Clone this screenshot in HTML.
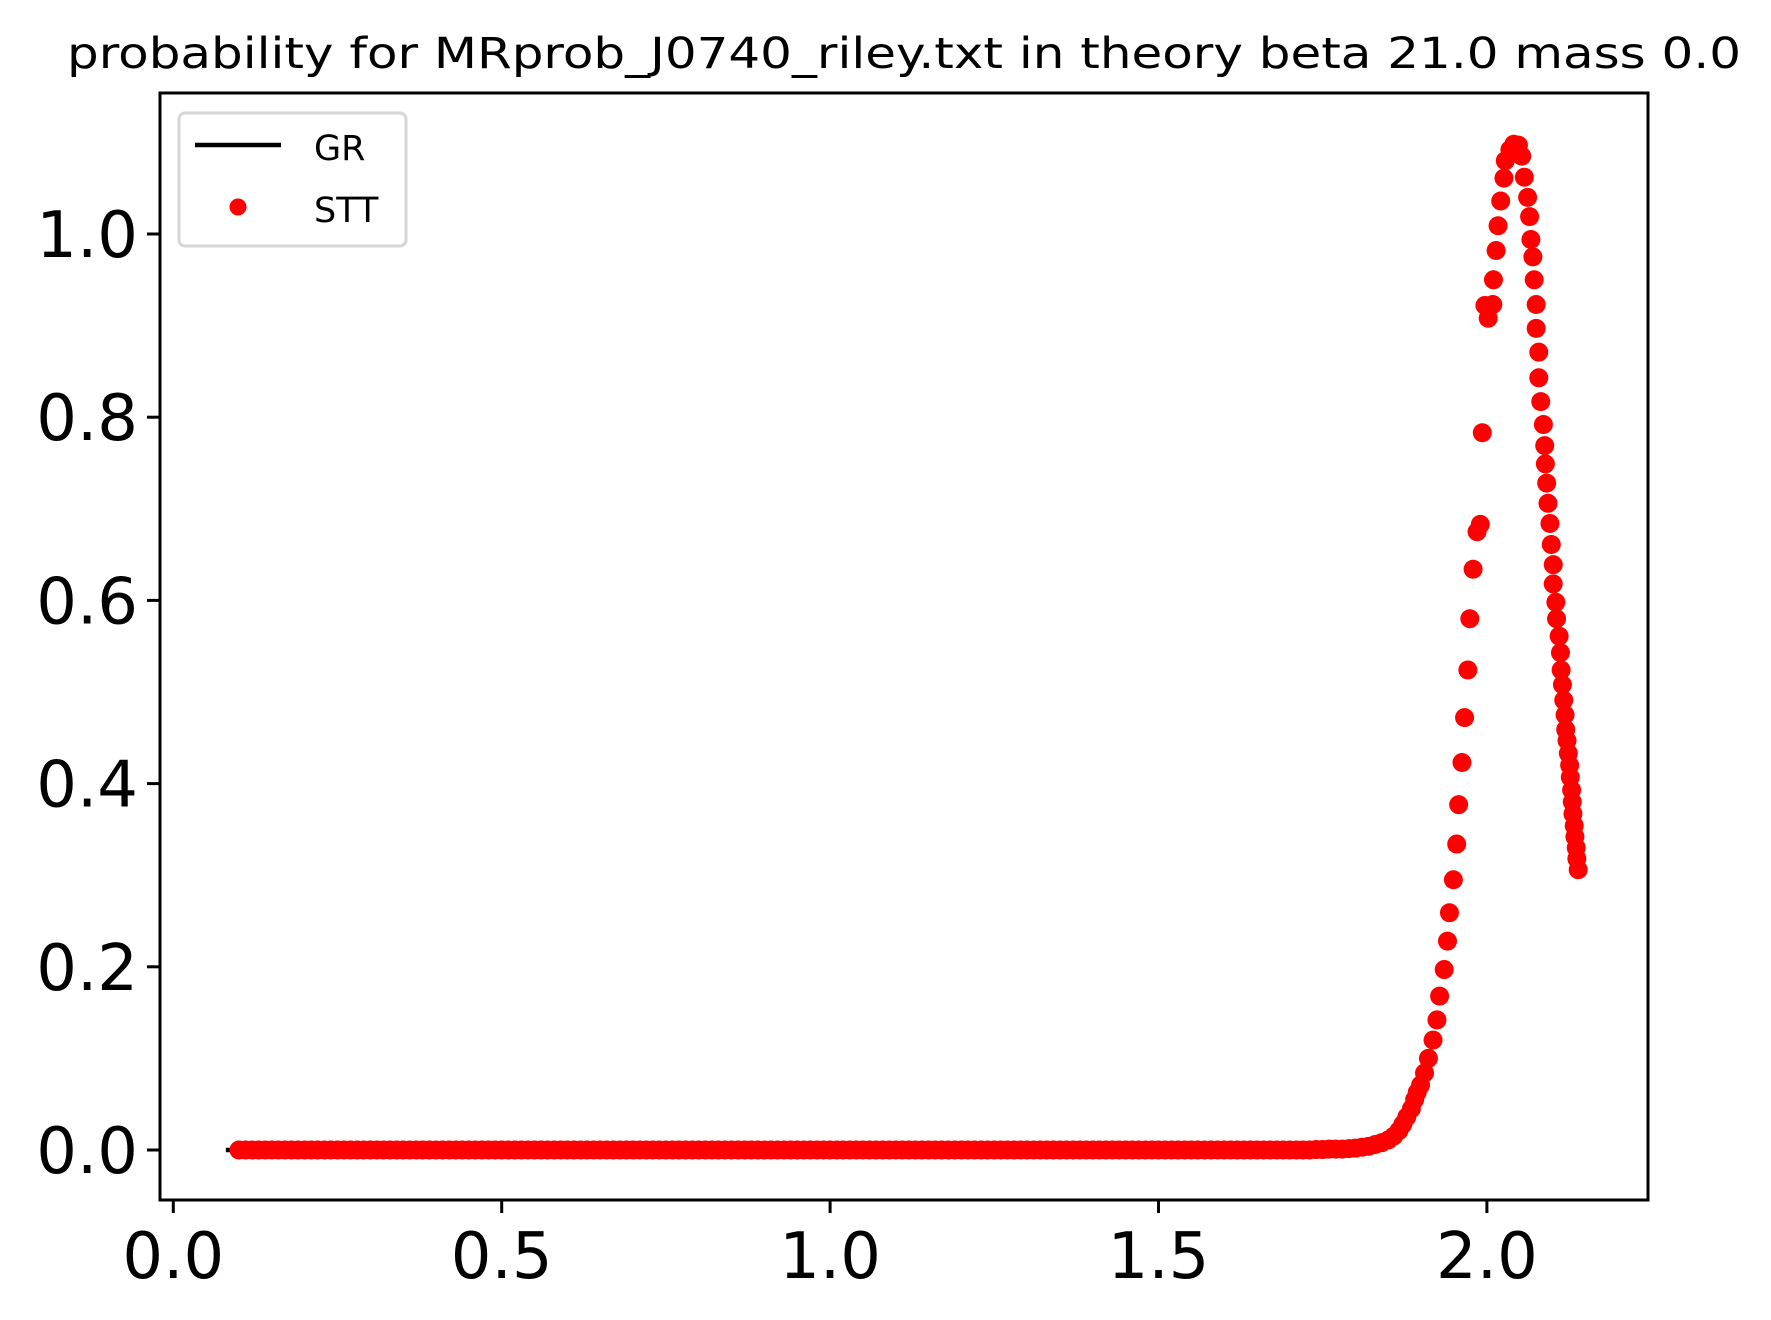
<!DOCTYPE html>
<html><head><meta charset="utf-8"><style>
html,body{margin:0;padding:0;background:#fff;}
svg{display:block;font-family:"DejaVu Sans","Liberation Sans",sans-serif;}
</style></head><body>
<svg id="chart" width="1771" height="1320" viewBox="0 0 1771 1320" xmlns="http://www.w3.org/2000/svg">
<rect width="1771" height="1320" fill="#fff"/>
<text x="904" y="68" text-anchor="middle" font-size="43" textLength="1674" lengthAdjust="spacingAndGlyphs">probability for MRprob_J0740_riley.txt in theory beta 21.0 mass 0.0</text>
<g id="plot"></g>
<g id="axes"></g>
<g>
<rect x="179" y="113" width="227" height="133" rx="6" fill="#fff" fill-opacity="0.8" stroke="#d6d6d6" stroke-width="3"/>
<g>
<line x1="195" y1="145" x2="281" y2="145" stroke="#000" stroke-width="4.5"/>
<text x="314" y="160" font-size="35">GR</text></g>
<g>
<circle cx="238" cy="207" r="8.5" fill="#ff0000"/>
<text x="314" y="222" font-size="35">STT</text></g>
</g>
</svg>
<script>
const xTicks=[0.0,0.5,1.0,1.5,2.0];
const xTickLabels=["0.0","0.5","1.0","1.5","2.0"];
const yTicks=[0.0,0.2,0.4,0.6,0.8,1.0];
const yTickLabels=["0.0","0.2","0.4","0.6","0.8","1.0"];
const grX=[0.08,0.095];
const grY=[0,0];
const flatX=[0.10,0.11,0.12,0.13,0.14,0.15,0.16,0.17,0.18,0.19,0.20,0.21,0.22,0.23,0.24,0.25,0.26,0.27,0.28,0.29,0.30,0.31,0.32,0.33,0.34,0.35,0.36,0.37,0.38,0.39,0.40,0.41,0.42,0.43,0.44,0.45,0.46,0.47,0.48,0.49,0.50,0.51,0.52,0.53,0.54,0.55,0.56,0.57,0.58,0.59,0.60,0.61,0.62,0.63,0.64,0.65,0.66,0.67,0.68,0.69,0.70,0.71,0.72,0.73,0.74,0.75,0.76,0.77,0.78,0.79,0.80,0.81,0.82,0.83,0.84,0.85,0.86,0.87,0.88,0.89,0.90,0.91,0.92,0.93,0.94,0.95,0.96,0.97,0.98,0.99,1.00,1.01,1.02,1.03,1.04,1.05,1.06,1.07,1.08,1.09,1.10,1.11,1.12,1.13,1.14,1.15,1.16,1.17,1.18,1.19,1.20,1.21,1.22,1.23,1.24,1.25,1.26,1.27,1.28,1.29,1.30,1.31,1.32,1.33,1.34,1.35,1.36,1.37,1.38,1.39,1.40,1.41,1.42,1.43,1.44,1.45,1.46,1.47,1.48,1.49,1.50,1.51,1.52,1.53,1.54,1.55,1.56,1.57,1.58,1.59,1.60,1.61,1.62,1.63,1.64,1.65,1.66,1.67,1.68,1.69,1.70,1.71,1.72,1.73,1.74,1.75,1.76,1.77,1.78,1.79];
const flatY=[0,0,0,0,0,0,0,0,0,0,0,0,0,0,0,0,0,0,0,0,0,0,0,0,0,0,0,0,0,0,0,0,0,0,0,0,0,0,0,0,0,0,0,0,0,0,0,0,0,0,0,0,0,0,0,0,0,0,0,0,0,0,0,0,0,0,0,0,0,0,0,0,0,0,0,0,0,0,0,0,0,0,0,0,0,0,0,0,0,0,0,0,0,0,0,0,0,0,0,0,0,0,0,0,0,0,0,0,0,0,0,0,0,0,0,0,0,0,0,0,0,0,0,0,0,0,0,0,0,0,0,0,0,0,0,0,0,0,0,0,0,0,0,0,0,0,0,0,0,0,0,0,0,0,0,0,0,0,0,0,0,0,0,0,0.0005,0.0005,0.001,0.001,0.001,0.0015];
const sttX=[1.80,1.81,1.82,1.83,1.84,1.85,1.858,1.866,1.872,1.878,1.885,1.89,1.894,1.899,1.905,1.911,1.918,1.924,1.928,1.935,1.94,1.943,1.949,1.954,1.957,1.962,1.966,1.971,1.974,1.979,1.985,1.99,1.993,2.002,1.997,2.009,2.01,2.014,2.017,2.021,2.026,2.028,2.035,2.041,2.048,2.053,2.057,2.062,2.065,2.067,2.07,2.072,2.075,2.075,2.079,2.079,2.082,2.086,2.088,2.089,2.091,2.093,2.096,2.098,2.101,2.101,2.105,2.106,2.11,2.112,2.113,2.115,2.117,2.119,2.12,2.122,2.124,2.126,2.127,2.129,2.13,2.131,2.133,2.134,2.136,2.137,2.139];
const sttY=[0.002,0.003,0.004,0.006,0.008,0.011,0.015,0.021,0.028,0.036,0.045,0.055,0.063,0.071,0.084,0.1,0.12,0.142,0.168,0.197,0.228,0.259,0.295,0.334,0.377,0.423,0.472,0.524,0.58,0.634,0.675,0.683,0.783,0.908,0.922,0.923,0.95,0.982,1.009,1.036,1.061,1.08,1.092,1.098,1.097,1.085,1.062,1.04,1.019,0.994,0.975,0.95,0.923,0.897,0.871,0.843,0.817,0.792,0.769,0.749,0.728,0.706,0.684,0.661,0.639,0.618,0.598,0.58,0.561,0.543,0.524,0.508,0.491,0.475,0.459,0.447,0.433,0.42,0.407,0.393,0.38,0.367,0.354,0.342,0.33,0.318,0.306];

const L=160,R=1648,T=93,B=1200;
const X0=173.3,XU=656.8,Y0=1150,YU=916;
function sx(v){return X0+v*XU;}
function sy(v){return Y0-v*YU;}
const NS="http://www.w3.org/2000/svg";
function mk(tag,attrs,parent){const e=document.createElementNS(NS,tag);for(const k in attrs)e.setAttribute(k,attrs[k]);parent.appendChild(e);return e;}
const plot=document.getElementById('plot');
const axes=document.getElementById('axes');

const grPts=grX.map((x,i)=>sx(x)+','+sy(grY[i])).join(' ');
const gr=mk('polyline',{points:grPts,fill:'none',stroke:'#000','stroke-width':4.5},plot);



const allX=flatX.concat(sttX), allY=flatY.concat(sttY);
for(let i=0;i<allX.length;i++){
  const c=mk('circle',{cx:sx(allX[i]),cy:sy(allY[i]),r:9.5,fill:'#ff0000'},plot);
  
  
}

const frame=mk('rect',{x:L,y:T,width:R-L,height:B-T,fill:'none',stroke:'#000','stroke-width':3},axes);



for(let i=0;i<xTicks.length;i++){
  const x=sx(xTicks[i]);
  const t=mk('line',{x1:x,y1:B,x2:x,y2:B+13,stroke:'#000','stroke-width':3},axes);
  
  
  const lb=mk('text',{x:x,y:B+78,'text-anchor':'middle','font-size':64},axes);
  lb.textContent=xTickLabels[i];
  
  
}
for(let i=0;i<yTicks.length;i++){
  const y=sy(yTicks[i]);
  const t=mk('line',{x1:L-13,y1:y,x2:L,y2:y,stroke:'#000','stroke-width':3},axes);
  
  
  const lb=mk('text',{x:L-22,y:y+23,'text-anchor':'end','font-size':64},axes);
  lb.textContent=yTickLabels[i];
  
  
}
</script>
</body></html>
